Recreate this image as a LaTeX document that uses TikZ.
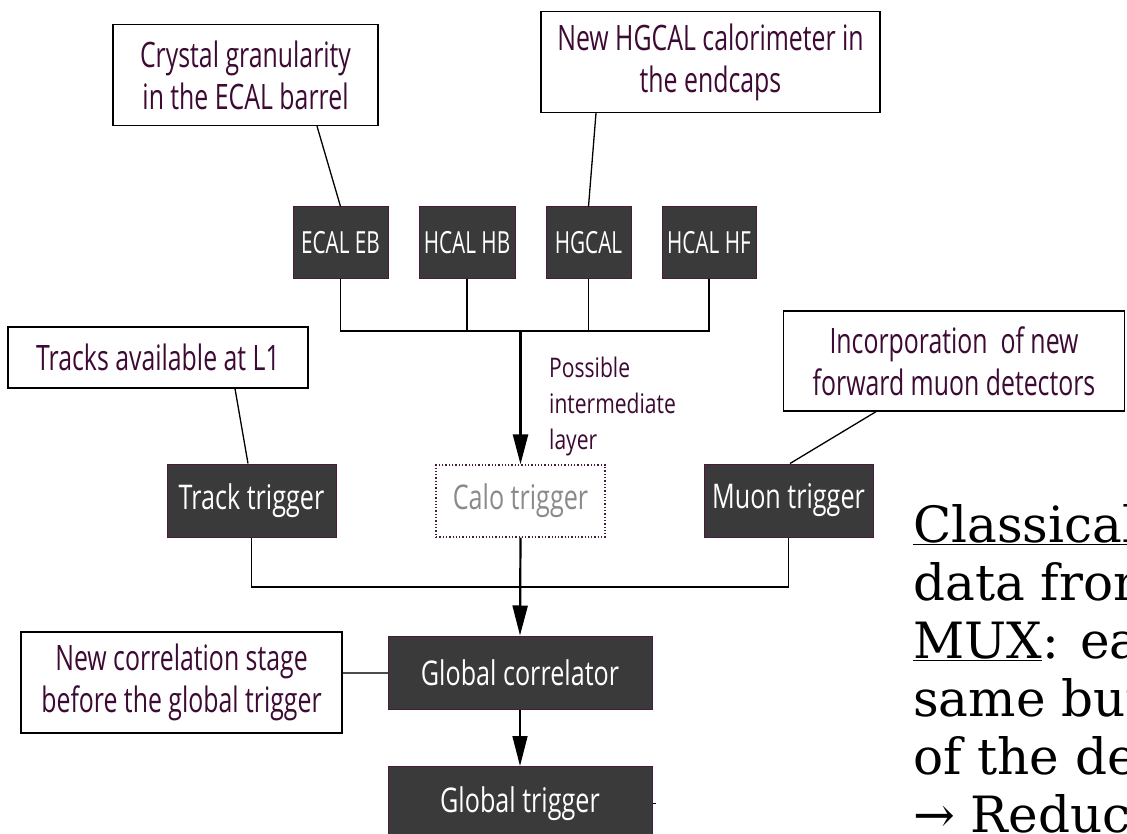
\documentclass[tikz,border=0pt]{standalone}
\usepackage{fontspec}
\newfontfamily\oscnote{Open Sans}[FakeStretch=0.71]
\newfontfamily\osctrig{Open Sans}[FakeStretch=0.74]
\newfontfamily\oscdet{Open Sans}[FakeStretch=0.68]
\newfontfamily\osc{Open Sans}[FakeStretch=0.78]
\newfontfamily\dserif{DejaVu Serif}
\usetikzlibrary{arrows.meta,calc}
\definecolor{notecol}{HTML}{3D0A33}
\definecolor{boxfill}{HTML}{3A3A3A}
\definecolor{boxedge}{HTML}{4A1A3A}
\definecolor{calogrey}{HTML}{8A8A8A}
\tikzset{
  note/.style={draw=black,line width=1.3pt,fill=white,text=notecol,align=center,inner sep=0pt,
    font=\oscnote\fontsize{35}{42}\selectfont},
  darkbox/.style={draw=boxedge,line width=1pt,fill=boxfill,text=white,align=center,inner sep=0pt,
    minimum height=73pt,font=\osctrig\fontsize{34}{42}\selectfont},
  detbox/.style={darkbox,minimum height=72pt,font=\oscdet\fontsize{30.5}{36}\selectfont},
  calobox/.style={draw=boxedge,line width=1.3pt,dotted,text=calogrey,inner sep=0pt,
    minimum width=169pt,minimum height=72pt,font=\osctrig\fontsize{34}{42}\selectfont},
  link/.style={draw=black,line width=1.3pt},
  arr/.style={draw=black,line width=1.8pt,-{Triangle[length=30pt,width=15pt]}},
  sidetext/.style={anchor=base west,inner sep=0pt,font=\dserif\fontsize{50}{58}\selectfont}
}
\begin{document}
\begin{tikzpicture}[x=1pt,y=-1pt]
\useasboundingbox (0,0) rectangle (1127,834);
\clip (0,0) rectangle (1127,834);
\fill[white] (0,0) rectangle (1127,834);

% annotation boxes
\node[note,minimum width=265pt,minimum height=101pt] (crystal) at (245.5,75) {Crystal granularity\\in the ECAL barrel};
\node[note,minimum width=339pt,minimum height=101pt] (hgcalnote) at (710.5,62) {New HGCAL calorimeter in\\the endcaps};
\node[note,minimum width=300pt,minimum height=61pt] (tracksnote) at (158,357.5) {Tracks available at L1};
\node[note,minimum width=341pt,minimum height=100pt] (muonnote) at (954,361) {Incorporation\ \ of new\\forward muon detectors};
\node[note,minimum width=321pt,minimum height=101pt] (corrnote) at (181.5,682.5) {New correlation stage\\before the global trigger};

% detector boxes
\node[detbox,minimum width=95pt] (ecal) at (340.5,243) {ECAL EB};
\node[detbox,minimum width=96pt] (hcalhb) at (467,243) {HCAL HB};
\node[detbox,minimum width=85pt] (hgcal) at (588.5,243) {HGCAL};
\node[detbox,minimum width=94pt] (hcalhf) at (709,243) {HCAL HF};

% triggers
\node[darkbox,minimum width=169pt] (track) at (251.5,500.5) {Track trigger};
\node[calobox] (calo) at (520.5,501) {Calo trigger};
\node[darkbox,minimum width=169pt] (muon) at (788.5,500.5) {Muon trigger};
\node[darkbox,minimum width=264pt] (gcorr) at (520,672.5) {Global correlator};
\node[darkbox,minimum width=264pt,minimum height=74pt,anchor=north] (gtrig) at (520,766) {Global trigger};

% intermediate layer label
\node[anchor=base west,inner sep=0pt,align=left,text=notecol,font=\osc\fontsize{27}{36}\selectfont] (possible) at (549,449) {Possible\\intermediate\\layer};

% annotation links
\draw[link] ([xshift=71.5pt]crystal.south) -- (ecal.north);
\draw[link] ([xshift=-114.5pt]hgcalnote.south) -- (hgcal.north);
\draw[link] ([xshift=77pt]tracksnote.south) -- ([xshift=-3.5pt]track.north);
\draw[link] ([xshift=-78pt]muonnote.south) -- ([xshift=1.5pt]muon.north);
\draw[draw=black!70,line width=2pt] (corrnote.east |- gcorr.west) -- (gcorr.west);

% detector bus
\coordinate (busy) at (0,331);
\draw[link] (ecal.south) -- (ecal.south |- busy) -- (hcalhf.south |- busy) -- (hcalhf.south);
\draw[link] (hcalhb.south) -- (hcalhb.south |- busy);
\draw[link] (hgcal.south) -- (hgcal.south |- busy);
\draw[arr,line width=2.6pt] (calo.north |- busy) -- (calo.north);

% trigger bus
\coordinate (bustwo) at (0,587);
\draw[link] (track.south) -- (track.south |- bustwo) -- (muon.south |- bustwo) -- (muon.south);
\draw[arr,line width=2.2pt] (calo.south) -- (gcorr.north);
\draw[arr,line width=1.6pt] (gcorr.south) -- (gtrig.north);
\draw[line width=1pt] (gtrig.east) -- ++(3,0);

% side text (cut at the right edge, as in the reference)
\node[sidetext] (s1) at (913,542) {\underline{Classical}};
\node[sidetext] (s2) at (913,600) {data from};
\node[sidetext] (s3) at (913,658) {\underline{MUX}: each};
\node[sidetext] (s4) at (913,716) {same bunch};
\node[sidetext] (s5) at (913,774) {of the detector};
\node[sidetext] (s6) at (913,832) {→ Reduced};
\end{tikzpicture}
\end{document}
